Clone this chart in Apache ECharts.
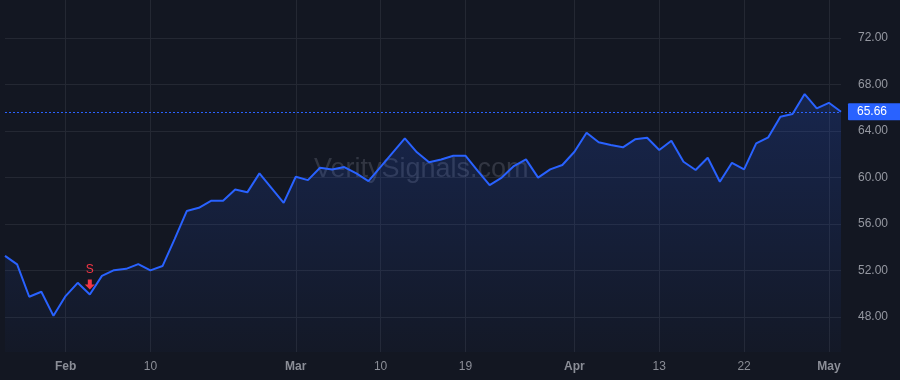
<!DOCTYPE html>
<html>
<head>
<meta charset="utf-8">
<script src="https://cdn.jsdelivr.net/npm/echarts@6/dist/echarts.min.js"></script>
<style>
    html, body { margin: 0; padding: 0; background: #131722; }
    #chart { width: 900px; height: 380px; }
</style>
</head>
<body>
<div id="chart"></div>
<script>
    // trading days, Jan 25 - May 4 2021
    var dates = [
        '2021-01-25', '2021-01-26', '2021-01-27', '2021-01-28', '2021-01-29',
        '2021-02-01', '2021-02-02', '2021-02-03', '2021-02-04', '2021-02-05',
        '2021-02-08', '2021-02-09', '2021-02-10', '2021-02-11', '2021-02-12',
        '2021-02-16', '2021-02-17', '2021-02-18', '2021-02-19',
        '2021-02-22', '2021-02-23', '2021-02-24', '2021-02-25', '2021-02-26',
        '2021-03-01', '2021-03-02', '2021-03-03', '2021-03-04', '2021-03-05',
        '2021-03-08', '2021-03-09', '2021-03-10', '2021-03-11', '2021-03-12',
        '2021-03-15', '2021-03-16', '2021-03-17', '2021-03-18', '2021-03-19',
        '2021-03-22', '2021-03-23', '2021-03-24', '2021-03-25', '2021-03-26',
        '2021-03-29', '2021-03-30', '2021-03-31', '2021-04-01',
        '2021-04-05', '2021-04-06', '2021-04-07', '2021-04-08', '2021-04-09',
        '2021-04-12', '2021-04-13', '2021-04-14', '2021-04-15', '2021-04-16',
        '2021-04-19', '2021-04-20', '2021-04-21', '2021-04-22', '2021-04-23',
        '2021-04-26', '2021-04-27', '2021-04-28', '2021-04-29', '2021-04-30',
        '2021-05-03', '2021-05-04'
    ];
    var prices = [
        53.27, 52.53, 49.75, 50.18, 48.11,
        49.81, 50.95, 49.95, 51.55, 52.04,
        52.15, 52.56, 52.02, 52.39, 54.71,
        57.12, 57.40, 58.00, 58.00,
        58.98, 58.73, 60.36, 59.10, 57.83,
        60.07, 59.78, 60.84, 60.70, 60.90,
        60.36, 59.70, 60.92, 62.15, 63.37,
        62.17, 61.31, 61.55, 61.88, 61.88,
        60.60, 59.35, 60.00, 60.99, 61.56,
        60.00, 60.70, 61.08, 62.22,
        63.86, 63.03, 62.80, 62.60, 63.29,
        63.43, 62.37, 63.17, 61.36, 60.65,
        61.70, 59.64, 61.27, 60.70, 62.94,
        63.46, 65.23, 65.46, 67.18, 65.95,
        66.43, 65.66
    ];
    var lastPrice = 65.66;
    var xTickDates = ['2021-02-01', '2021-02-10', '2021-03-01', '2021-03-10', '2021-03-19',
        '2021-04-01', '2021-04-13', '2021-04-22', '2021-05-03'];
    var xTickText = ['Feb', '10', 'Mar', '10', '19', 'Apr', '13', '22', 'May'];
    var yTicks = [48, 52, 56, 60, 64, 68, 72];
    var signalDate = '2021-02-03';
    var signalText = 'S';

    var chart = echarts.init(document.getElementById('chart'));

    function isTick(idx, val) {
        return xTickDates.indexOf(val) >= 0;
    }

    var option = {
        backgroundColor: '#131722',
        animation: false,
        textStyle: {fontFamily: 'Liberation Sans, Arial, sans-serif'},
        grid: {left: 5, right: 59, top: 0, bottom: 28},
        graphic: [{
            type: 'text',
            left: 314,
            top: 156,
            z: 1,
            style: {
                text: 'VeritySignals.com',
                font: '27px Liberation Sans, Arial, sans-serif',
                fill: 'rgba(150,155,170,0.24)'
            }
        }],
        xAxis: {
            type: 'category',
            data: dates,
            boundaryGap: false,
            axisLine: {show: false},
            axisTick: {show: false},
            axisLabel: {
                interval: isTick,
                margin: 9,
                color: '#8b8e97',
                fontSize: 12,
                formatter: function (val) {
                    var t = xTickText[xTickDates.indexOf(val)];
                    return isNaN(+t) ? '{b|' + t + '}' : t;
                },
                rich: {b: {fontWeight: 'bold', color: '#8b8e97', fontSize: 12}}
            },
            splitLine: {show: true, interval: isTick, lineStyle: {color: '#242833', width: 1}}
        },
        yAxis: {
            type: 'value',
            position: 'right',
            min: 45,
            max: 75.27,
            axisLine: {show: false},
            axisTick: {show: false, customValues: yTicks},
            axisLabel: {
                customValues: yTicks,
                margin: 17,
                padding: [6, 0, 0, 0],
                color: '#9598a1',
                fontSize: 12,
                formatter: function (v) { return v.toFixed(2); }
            },
            splitLine: {show: true, lineStyle: {color: '#242833', width: 1}}
        },
        series: [{
            type: 'line',
            data: prices,
            symbol: 'none',
            lineStyle: {color: '#2962ff', width: 2},
            areaStyle: {
                color: new echarts.graphic.LinearGradient(0, 0, 0, 1, [
                    {offset: 0, color: 'rgba(41,98,255,0.28)'},
                    {offset: 1, color: 'rgba(41,98,255,0.03)'}
                ])
            },
            markLine: {
                silent: true,
                symbol: 'none',
                lineStyle: {color: '#2962ff', type: [2, 2], width: 1},
                label: {
                    position: 'end',
                    distance: 7,
                    formatter: lastPrice.toFixed(2),
                    color: '#ffffff',
                    fontSize: 12,
                    backgroundColor: '#2962ff',
                    padding: [3, 14, 2, 9],
                    borderRadius: 1
                },
                data: [{yAxis: lastPrice}]
            },
            markPoint: {
                silent: true,
                symbol: 'path://M3,0 H7 V5 H10 L5,10 L0,5 H3 Z',
                symbolSize: [10, 10],
                symbolOffset: [0, -10],
                itemStyle: {color: '#f23645'},
                label: {
                    show: true,
                    position: 'top',
                    distance: 4,
                    formatter: signalText,
                    color: '#f23645',
                    fontSize: 12
                },
                data: [{coord: [signalDate, prices[dates.indexOf(signalDate)]]}]
            }
        }]
    };

    chart.setOption(option);
</script>
</body>
</html>
